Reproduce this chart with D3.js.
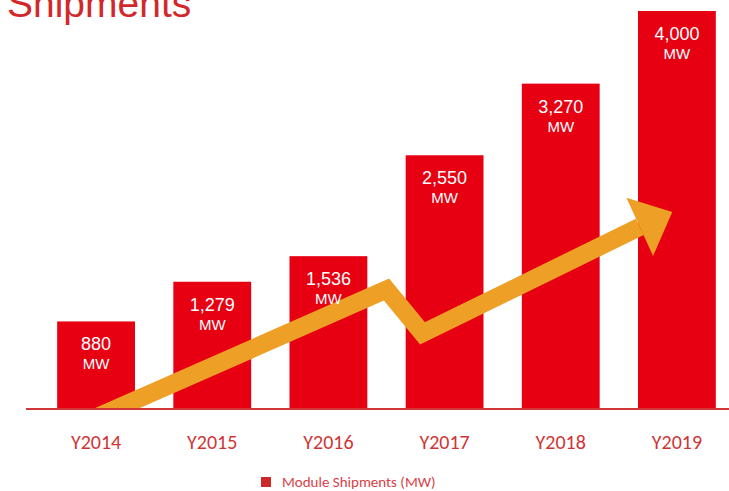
<!DOCTYPE html>
<html>
<head>
<meta charset="utf-8">
<script src="https://cdn.jsdelivr.net/npm/d3@7"></script>
<style>
  html, body { margin: 0; padding: 0; background: #fff; }
  svg { display: block; }
</style>
</head>
<body>
<div id="chart"></div>
<script>
const years = ["Y2014", "Y2015", "Y2016", "Y2017", "Y2018", "Y2019"];
const shipments = [880, 1279, 1536, 2550, 3270, 4000];
const unitLabel = "MW";
const legendLabel = "Module Shipments (MW)";
const titleText = "Shipments";

// trend arrow, in chart units: i = category index (0 = Y2014 centre), v = MW
const trendArrow = [
    {i: -0.01, v: -90},
    {i: 2.50, v: 1200},
    {i: 2.81, v: 760},
    {i: 4.68, v: 1830}
];
const trendTip = {i: 4.96, v: 1980};

const width = 729, height = 491;
const baseY = 409;
const barColor = "#e60012", arrowColor = "#eda025", red = "#d2363a";

const svg = d3.select("#chart").append("svg")
    .attr("width", width)
    .attr("height", height);

const x = d3.scaleBand().domain(years).range([38, 735]).paddingInner(0.33).paddingOuter(0.165);
const y = d3.scaleLinear().domain([0, 4000]).range([baseY, 11]);
const xi = d3.scaleLinear().domain([0, 5])
    .range([x(years[0]) + x.bandwidth() / 2, x(years[5]) + x.bandwidth() / 2]);

// title (cut off at top edge, as in the source slide)
svg.append("text")
    .attr("x", 7)
    .attr("y", 17)
    .attr("fill", "#d2282a")
    .style("font-family", "Liberation Sans, Arial, sans-serif")
    .style("font-size", "39px")
    .text(titleText);

// bars
svg.selectAll(".bar")
    .data(shipments)
    .enter()
    .append("rect")
    .attr("class", "bar")
    .attr("x", (d, i) => x(years[i]))
    .attr("y", d => y(d))
    .attr("width", x.bandwidth())
    .attr("height", d => baseY - y(d))
    .attr("fill", barColor);

// trend arrow
svg.append("clipPath").attr("id", "above-axis")
    .append("rect").attr("x", 0).attr("y", 0).attr("width", width).attr("height", baseY);

const arrowG = svg.append("g").attr("clip-path", "url(#above-axis)");
const pts = trendArrow.map(p => [xi(p.i), y(p.v)]);
arrowG.append("path")
    .attr("d", d3.line()(pts))
    .attr("fill", "none")
    .attr("stroke", arrowColor)
    .attr("stroke-width", 18)
    .attr("stroke-linejoin", "miter");

const base = pts[pts.length - 1];
const tip = [xi(trendTip.i), y(trendTip.v)];
const dx = tip[0] - base[0], dy = tip[1] - base[1];
const len = Math.hypot(dx, dy);
const px = -dy / len, py = dx / len, half = 32;
arrowG.append("path")
    .attr("d", d3.line()([
        [base[0] + px * half, base[1] + py * half],
        tip,
        [base[0] - px * half, base[1] - py * half]
    ]) + "Z")
    .attr("fill", arrowColor);

// value labels
const lbl = svg.selectAll(".val")
    .data(shipments)
    .enter()
    .append("g")
    .attr("class", "val")
    .attr("transform", (d, i) => `translate(${x(years[i]) + x.bandwidth() / 2},${y(d)})`)
    .style("font-family", "Liberation Sans, Arial, sans-serif")
    .attr("fill", "#fff")
    .attr("text-anchor", "middle");
lbl.append("text")
    .attr("y", 29)
    .style("font-size", "18px")
    .text(d => d3.format(",")(d));
lbl.append("text")
    .attr("y", 48)
    .style("font-size", "15px")
    .text(unitLabel);

// axis line
svg.append("line")
    .attr("x1", 26).attr("x2", width)
    .attr("y1", baseY).attr("y2", baseY)
    .attr("stroke", red)
    .attr("stroke-width", 2);

// category labels
svg.selectAll(".cat")
    .data(years)
    .enter()
    .append("text")
    .attr("class", "cat")
    .attr("x", d => x(d) + x.bandwidth() / 2)
    .attr("y", 449)
    .attr("text-anchor", "middle")
    .attr("fill", "#cf3535")
    .style("font-family", "Carlito, Lato, sans-serif")
    .style("font-size", "20px")
    .text(d => d);

// legend
const leg = svg.append("g").attr("transform", "translate(261,477)");
leg.append("rect")
    .attr("width", 10).attr("height", 10)
    .attr("fill", "#cc2a2a");
leg.append("text")
    .attr("x", 21).attr("y", 10)
    .attr("fill", "#d8414a")
    .style("font-family", "Carlito, Lato, sans-serif")
    .style("font-size", "15px")
    .text(legendLabel);
</script>
</body>
</html>
